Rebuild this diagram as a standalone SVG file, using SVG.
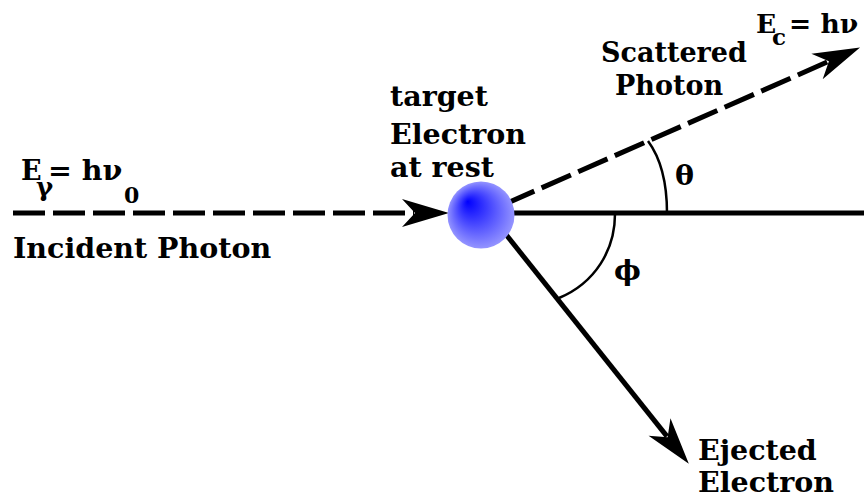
<svg xmlns="http://www.w3.org/2000/svg" width="864" height="500" viewBox="0 0 864 500">
<style>
  text { font-family: "DejaVu Serif", "Liberation Serif", serif; font-weight: bold; font-size: 28.5px; fill: #000; }
  .sub { font-size: 22px; }
  .gam { font-size: 26px; }
  .ei { font-size: 27px; }
  .csub { font-size: 23px; }
  .sc { font-size: 27px; }
  .ec { font-size: 26.5px; }
  .ln { stroke: #000; stroke-width: 5; fill: none; }
  .dash { stroke-dasharray: 32 8; }
  .arc { stroke: #000; stroke-width: 2.5; fill: none; }
</style>
<defs>
  <marker id="arr" viewBox="-14 -15 50 30" markerWidth="50" markerHeight="30" markerUnits="userSpaceOnUse" refX="-1" refY="0" orient="auto">
    <path d="M34,0 L-13,-14 L0,0 L-13,14 Z" fill="#000"/>
  </marker>
  <radialGradient id="eg" cx="0.5" cy="0.5" r="0.5" fx="0.3" fy="0.3">
    <stop offset="0" stop-color="#0000ff"/>
    <stop offset="1" stop-color="#9494ff"/>
  </radialGradient>
</defs>
<g id="connectors">
  <line id="incident" class="ln dash" x1="13" y1="213" x2="414" y2="213" marker-end="url(#arr)"/>
  <line id="axis" class="ln" x1="480" y1="213" x2="864" y2="213"/>
  <line id="scattered" class="ln dash" x1="505" y1="204" x2="828" y2="61.7" marker-end="url(#arr)"/>
  <line id="ejected" class="ln" x1="492" y1="217" x2="667" y2="436.4" marker-end="url(#arr)"/>
  <path id="theta-arc" class="arc" d="M667,213 C667,185 662,160 648,141"/>
  <path id="phi-arc" class="arc" d="M615,214 C615,250 595,283 559,298"/>
</g>
<g id="electron">
  <circle cx="481" cy="215" r="33.5" fill="url(#eg)"/>
</g>
<g id="incident-label">
  <text class="ei" x="21" y="180">E</text>
  <text class="gam" x="36" y="196">γ</text>
  <text x="48" y="180">= hν</text>
  <text class="sub" x="124" y="203">0</text>
  <text x="13" y="258">Incident Photon</text>
</g>
<g id="target-label">
  <text x="390" y="106">target</text>
  <text x="390" y="144">Electron</text>
  <text x="390" y="177">at rest</text>
</g>
<g id="scattered-label">
  <text class="sc" x="601" y="62">Scattered</text>
  <text class="sc" x="615" y="95">Photon</text>
  <text class="ec" x="756" y="33">E</text>
  <text class="csub" x="772" y="45">c</text>
  <text class="ec" x="789" y="33">= hν</text>
</g>
<g id="angles">
  <text x="675" y="185">θ</text>
  <text x="614" y="280">ϕ</text>
</g>
<g id="ejected-label">
  <text x="698" y="460">Ejected</text>
  <text x="698" y="492">Electron</text>
</g>
</svg>
